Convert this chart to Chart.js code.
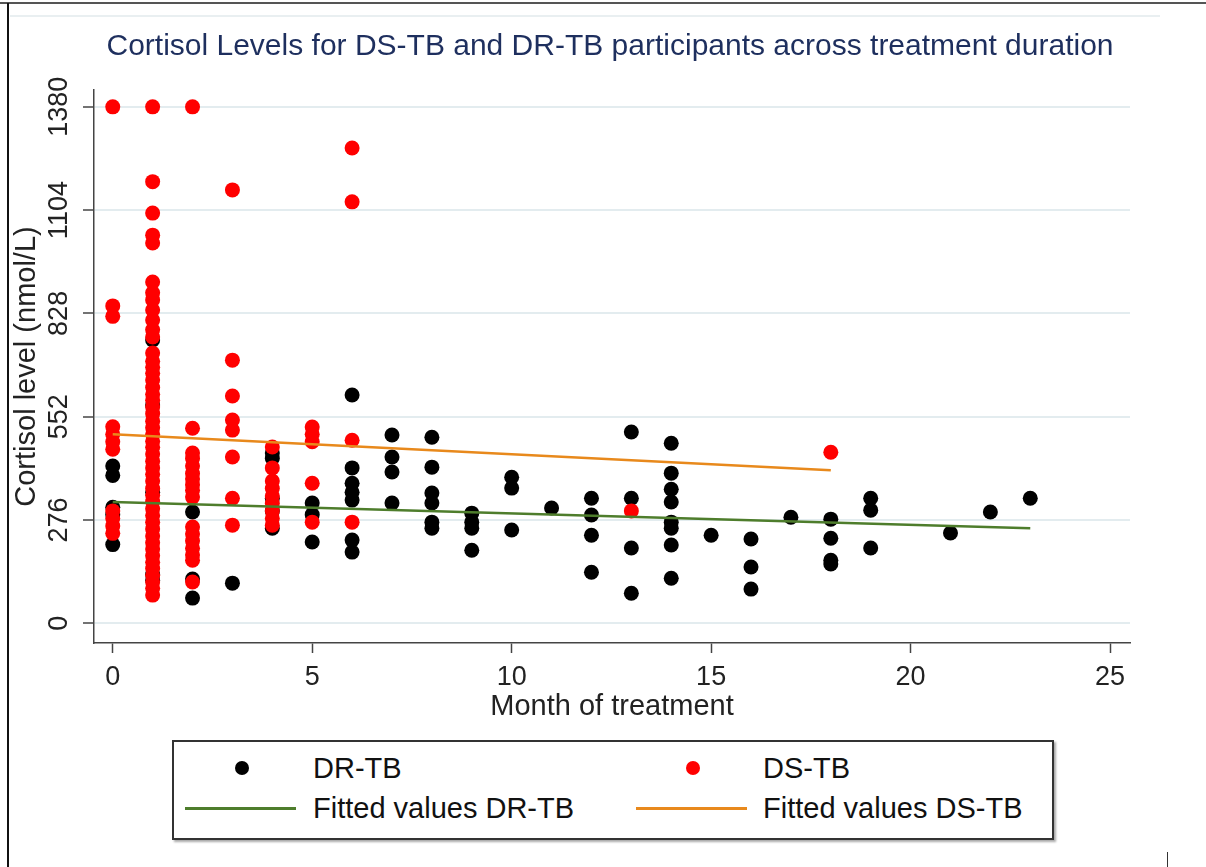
<!DOCTYPE html>
<html>
<head>
<meta charset="utf-8">
<script src="https://cdn.jsdelivr.net/npm/chart.js@4"></script>
<style>
  html, body { margin:0; padding:0; background:#fff; }
  body { width:1206px; height:867px; position:relative; overflow:hidden; font-family:"Liberation Sans", Arial, sans-serif; }
  #wrap { position:absolute; left:0; top:0; width:1206px; height:730px; }
  .deco { position:absolute; }
  #title { position:absolute; left:0; width:1220px; top:27px; text-align:center; font-size:30px; line-height:36px; color:#1e2f5e; white-space:nowrap; }
  #legend { position:absolute; left:172px; top:740px; width:878px; height:96px; border:2px solid #333; box-shadow:2px 2px 2px #aaa; background:#fff; }
  .lt { position:absolute; font-size:29px; color:#111; line-height:34px; white-space:nowrap; }
  .dot { position:absolute; width:14px; height:14px; border-radius:50%; }
  .ln { position:absolute; height:3px; }
</style>
</head>
<body>
<div class="deco" style="left:0;top:2px;width:1206px;height:2px;background:#555;"></div>
<div class="deco" style="left:7px;top:3px;width:2px;height:864px;background:#111;"></div>
<div class="deco" style="left:10px;top:15px;width:1150px;height:2px;background:#e9eff1;"></div>
<div class="deco" style="left:1167px;top:852px;width:1px;height:15px;background:#333;"></div>
<div id="wrap"><canvas id="c" width="1206" height="730"></canvas></div>
<div id="title"></div>
<div id="legend">
  <div class="dot" style="left:61px;top:19px;background:#000;"></div>
  <div class="lt" style="left:139px;top:9px;">DR-TB</div>
  <div class="dot" style="left:512px;top:19px;background:#ff0000;"></div>
  <div class="lt" style="left:589px;top:9px;">DS-TB</div>
  <div class="ln" style="left:11px;top:65px;width:111px;background:#4e7d2c;"></div>
  <div class="lt" style="left:139px;top:49px;">Fitted values DR-TB</div>
  <div class="ln" style="left:462px;top:65px;width:111px;background:#e8891c;"></div>
  <div class="lt" style="left:589px;top:49px;">Fitted values DS-TB</div>
</div>
<script>
// ---- data ----
const TITLE = "Cortisol Levels for DS-TB and DR-TB participants across treatment duration";
const X_TITLE = "Month of treatment";
const Y_TITLE = "Cortisol level (nmol/L)";
const X_TICKS = [0, 5, 10, 15, 20, 25];
const Y_TICKS = [0, 276, 552, 828, 1104, 1380];

// DR-TB participants (black)
const DR_MONTH = [
  0,0,0,0,0,
  1,1,1,1,1,
  2,2,2,
  3,
  4,4,4,4,4,
  5,5,5,
  6,6,6,6,6,6,6,
  7,7,7,7,
  8,8,8,8,8,8,
  9,9,9,9,
  10,10,10,
  11,
  12,12,12,12,
  13,13,13,13,
  14,14,14,14,14,14,14,14,
  15,
  16,16,16,
  17,
  18,18,18,18,
  19,19,19,
  21,
  22,
  23
];
const DR_CORTISOL = [
  420,395,310,290,210,
  757,583,350,130,115,
  297,118,67,
  107,
  455,440,334,300,254,
  321,290,217,
  610,415,374,350,329,222,190,
  503,444,404,321,
  497,417,348,321,270,254,
  294,270,254,195,
  390,361,249,
  308,
  334,289,235,136,
  511,334,201,80,
  481,401,358,324,270,254,209,120,
  235,
  225,150,91,
  283,
  278,227,168,158,
  334,302,201,
  241,
  297,
  334
];

// DS-TB participants (red)
const DS_MONTH = [
  0,0,0,0,0,0,0,0,0,0,0,
  1,1,1,1,1,1,1,1,1,1,1,1,1,1,1,1,1,1,1,1,1,1,1,1,1,1,1,1,1,1,1,1,1,1,1,1,1,1,1,1,
  2,2,2,2,2,2,2,2,2,2,2,2,2,2,2,2,2,
  3,3,3,3,3,3,3,3,
  4,4,4,4,4,4,4,4,4,
  5,5,5,5,5,
  6,6,6,6,
  13,
  18
];
const DS_CORTISOL = [
  1380,848,820,525,505,485,465,300,280,260,240,
  1380,1180,1096,1037,1016,912,883,864,837,810,784,765,722,700,684,668,650,630,612,596,578,560,540,522,505,486,470,452,433,415,398,380,360,342,325,306,288,270,252,233,
  1380,521,455,440,420,400,385,370,355,337,257,238,220,200,182,168,110,
  1158,703,607,543,516,444,334,262,
  471,415,380,360,340,320,300,280,262,
  524,505,485,374,270,
  1270,1126,489,270,
  300,
  457
];
const DS_CORTISOL_LOW = [215,198,180,163,146,128,110,93,75]; // lower part of month-1 column
const DS_MONTH_LOW = [1,1,1,1,1,1,1,1,1];

// fitted regression lines (end points)
const FIT_DR_MONTH = [0, 23];
const FIT_DR_VALUE = [324, 254];
const FIT_DS_MONTH = [0, 18];
const FIT_DS_VALUE = [505, 409];

// ---- build ----
document.getElementById('title').textContent = TITLE;
const zip = (xs, ys) => xs.map((x, i) => ({ x: x, y: ys[i] }));
const FONT = '"Liberation Sans", Arial, sans-serif';

new Chart(document.getElementById('c'), {
  type: 'scatter',
  data: {
    datasets: [
      { label: 'Fitted values DS-TB', data: zip(FIT_DS_MONTH, FIT_DS_VALUE), showLine: true, pointRadius: 0,
        borderColor: '#e8891c', borderWidth: 2.5, order: 0 },
      { label: 'Fitted values DR-TB', data: zip(FIT_DR_MONTH, FIT_DR_VALUE), showLine: true, pointRadius: 0,
        borderColor: '#4e7d2c', borderWidth: 2.5, order: 1 },
      { label: 'DS-TB', data: zip(DS_MONTH.concat(DS_MONTH_LOW), DS_CORTISOL.concat(DS_CORTISOL_LOW)),
        pointRadius: 7.5, backgroundColor: '#ff0000', borderWidth: 0, order: 2 },
      { label: 'DR-TB', data: zip(DR_MONTH, DR_CORTISOL),
        pointRadius: 7.5, backgroundColor: '#000000', borderWidth: 0, order: 3 }
    ]
  },
  options: {
    responsive: false,
    animation: false,
    devicePixelRatio: 1,
    layout: { padding: { left: 0, right: 76, top: 90, bottom: 0 } },
    plugins: {
      legend: { display: false },
      tooltip: { enabled: false },
      title: { display: false }
    },
    scales: {
      x: {
        type: 'linear', min: -0.47, max: 25.5,
        afterBuildTicks: s => { s.ticks = X_TICKS.map(v => ({ value: v })); },
        afterFit: s => { s.height = 87; },
        grid: { drawOnChartArea: false, drawTicks: true, tickLength: 10, tickColor: '#444', tickWidth: 1.5 },
        border: { color: '#444', width: 1.5 },
        ticks: { color: '#222', padding: 8, callback: v => String(v), font: { family: FONT, size: 27, lineHeight: 1.2 } },
        title: { display: true, text: X_TITLE, color: '#222',
          font: { family: FONT, size: 29, lineHeight: 1.2 }, padding: { top: 0, bottom: 6 } }
      },
      y: {
        type: 'linear', min: -53, max: 1425,
        afterBuildTicks: s => { s.ticks = Y_TICKS.map(v => ({ value: v })); },
        afterFit: s => { s.width = 94; },
        grid: { color: '#e3ecef', lineWidth: 2, drawTicks: true, tickLength: 11, tickColor: '#444', tickWidth: 1.5 },
        border: { color: '#444', width: 1.5 },
        ticks: { color: '#222', minRotation: 90, maxRotation: 90, crossAlign: 'center', padding: -7,
          callback: v => String(v), font: { family: FONT, size: 27, lineHeight: 1.2 } },
        title: { display: true, text: Y_TITLE, color: '#222',
          font: { family: FONT, size: 29, lineHeight: 1.2 }, padding: { top: 10, bottom: 0 } }
      }
    }
  }
});
</script>
</body>
</html>
